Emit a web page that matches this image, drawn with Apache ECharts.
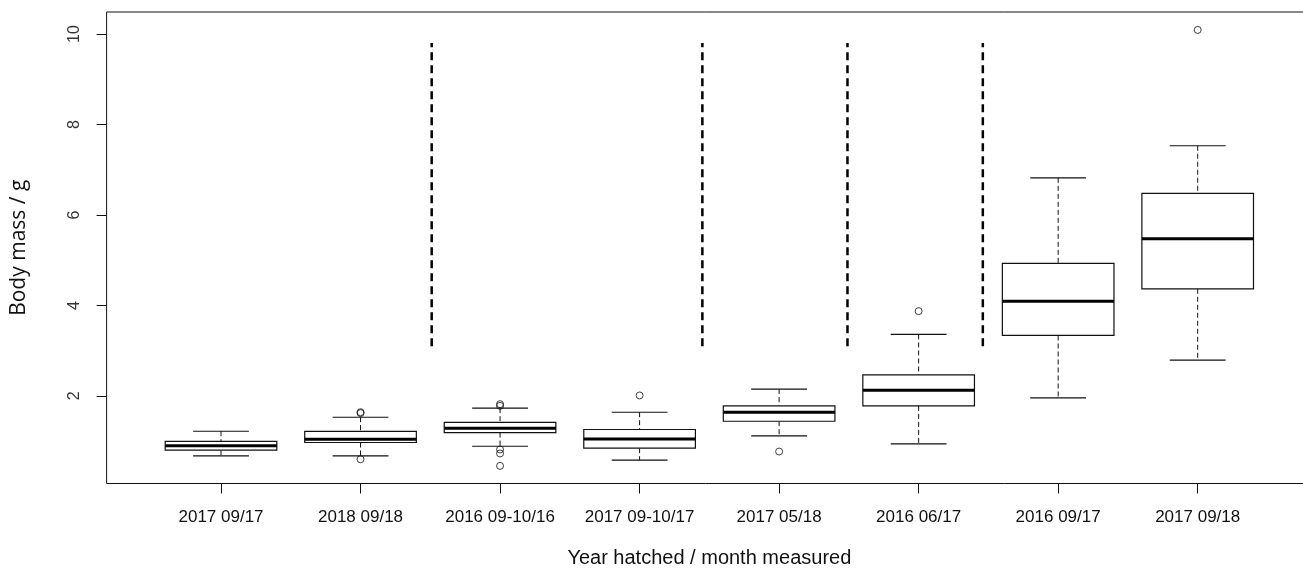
<!DOCTYPE html>
<html>
<head>
<meta charset="utf-8">
<script src="https://cdn.jsdelivr.net/npm/echarts@6/dist/echarts.min.js"></script>
<style>html,body{margin:0;padding:0;background:#fff;}#chart{width:1303px;height:568px;}</style>
</head>
<body>
<div id="chart"></div>
<script>
// ---- data ----
const categories = ['2017 09/17','2018 09/18','2016 09-10/16','2017 09-10/17','2017 05/18','2016 06/17','2016 09/17','2017 09/18'];
const lowWhisker  = [0.675, 0.675, 0.889, 0.58, 1.117, 0.94, 1.957, 2.79];
const q1          = [0.80,  0.97,  1.19,  0.845, 1.44, 1.78, 3.337, 4.368];
const median      = [0.896, 1.044, 1.287, 1.05, 1.64, 2.127, 4.095, 5.473];
const q3          = [0.993, 1.214, 1.413, 1.258, 1.78, 2.466, 4.93, 6.477];
const highWhisker = [1.22,  1.53,  1.73,  1.64, 2.15, 3.36, 6.82, 7.53];
const outlierGroup = [2, 2, 2, 3, 3, 3, 3, 3, 4, 5, 6, 8];
const outlierValue = [1.62, 1.64, 0.60, 1.818, 1.78, 0.816, 0.728, 0.453, 2.01, 0.77, 3.874, 10.09];
const separatorX = [2.51, 4.45, 5.49, 6.46];
const separatorRange = [3.1, 9.8];
const yTicks = [2, 4, 6, 8, 10];
const xTicks = [1, 2, 3, 4, 5, 6, 7, 8];

// ---- build series data ----
const boxData = categories.map((c, i) => [i + 1, lowWhisker[i], q1[i], median[i], q3[i], highWhisker[i]]);
const outlierData = outlierGroup.map((g, i) => [g, outlierValue[i]]);
const sepData = separatorX.map(x => [x, separatorRange[0], separatorRange[1]]);

const INK = '#111';

function renderBox(params, api) {
  const x = api.value(0);
  const pLow = api.coord([x, api.value(1)]);
  const pQ1 = api.coord([x, api.value(2)]);
  const pMed = api.coord([x, api.value(3)]);
  const pQ3 = api.coord([x, api.value(4)]);
  const pHigh = api.coord([x, api.value(5)]);
  const cx = pMed[0];
  const halfBox = api.size([0.4, 0])[0];
  const halfCap = api.size([0.2, 0])[0];
  const dashed = {stroke: INK, lineWidth: 1, lineDash: [5, 3]};
  const solid = {stroke: INK, lineWidth: 1.1};
  return {
    type: 'group',
    children: [
      {type: 'line', shape: {x1: cx, y1: pHigh[1], x2: cx, y2: pQ3[1]}, style: dashed},
      {type: 'line', shape: {x1: cx, y1: pQ1[1], x2: cx, y2: pLow[1]}, style: dashed},
      {type: 'line', shape: {x1: cx - halfCap, y1: pHigh[1], x2: cx + halfCap, y2: pHigh[1]}, style: solid},
      {type: 'line', shape: {x1: cx - halfCap, y1: pLow[1], x2: cx + halfCap, y2: pLow[1]}, style: solid},
      {type: 'rect', shape: {x: cx - halfBox, y: pQ3[1], width: 2 * halfBox, height: pQ1[1] - pQ3[1]},
        style: {fill: '#fff', stroke: INK, lineWidth: 1.2}},
      {type: 'line', shape: {x1: cx - halfBox, y1: pMed[1], x2: cx + halfBox, y2: pMed[1]},
        style: {stroke: '#000', lineWidth: 3}}
    ]
  };
}

function renderSep(params, api) {
  const x = api.value(0);
  const a = api.coord([x, api.value(1)]);
  const b = api.coord([x, api.value(2)]);
  return {type: 'line', shape: {x1: a[0], y1: a[1], x2: b[0], y2: b[1]},
    style: {stroke: '#000', lineWidth: 2.5, lineDash: [8, 5]}};
}

const chart = echarts.init(document.getElementById('chart'), null, {renderer: 'canvas'});
chart.setOption({
  animation: false,
  backgroundColor: '#fff',
  grid: {left: 106.6, top: 12, width: 1205.5, height: 471.5, show: true, borderColor: INK, borderWidth: 1,
    backgroundColor: 'transparent', outerBoundsMode: 'none', containLabel: false},
  xAxis: {
    type: 'value', min: 0.18, max: 8.82,
    name: 'Year hatched / month measured', nameLocation: 'middle', nameGap: 65,
    nameTextStyle: {fontFamily: 'Liberation Sans, Arial, sans-serif', fontSize: 20, color: INK},
    axisLine: {show: false},
    splitLine: {show: false},
    axisTick: {show: true, customValues: xTicks, length: 10, inside: false, lineStyle: {color: INK, width: 1}},
    axisLabel: {customValues: xTicks, formatter: v => categories[Math.round(v) - 1], margin: 25,
      fontFamily: 'Liberation Sans, Arial, sans-serif', fontSize: 17, color: INK}
  },
  yAxis: {
    type: 'value', min: 0.064, max: 10.486,
    name: 'Body mass / g', nameLocation: 'middle', nameGap: 77, nameRotate: 90,
    nameTextStyle: {fontFamily: 'Open Sans, sans-serif', fontSize: 21, color: INK},
    axisLine: {show: false},
    splitLine: {show: false},
    axisTick: {show: true, customValues: yTicks, length: 10, inside: false, lineStyle: {color: INK, width: 1}},
    axisLabel: {customValues: yTicks, rotate: 90, margin: 24,
      fontFamily: 'Liberation Sans, Arial, sans-serif', fontSize: 16, color: '#333'}
  },
  series: [
    {type: 'custom', name: 'separators', renderItem: renderSep, data: sepData, z: 2, silent: true},
    {type: 'custom', name: 'boxes', renderItem: renderBox, data: boxData, z: 3, silent: true,
      encode: {x: 0, y: [1, 2, 3, 4, 5]}},
    {type: 'scatter', name: 'outliers', data: outlierData, symbol: 'circle', symbolSize: 7, z: 4,
      itemStyle: {color: 'rgba(0,0,0,0)', borderColor: INK, borderWidth: 1}, silent: true}
  ]
});
</script>
</body>
</html>
